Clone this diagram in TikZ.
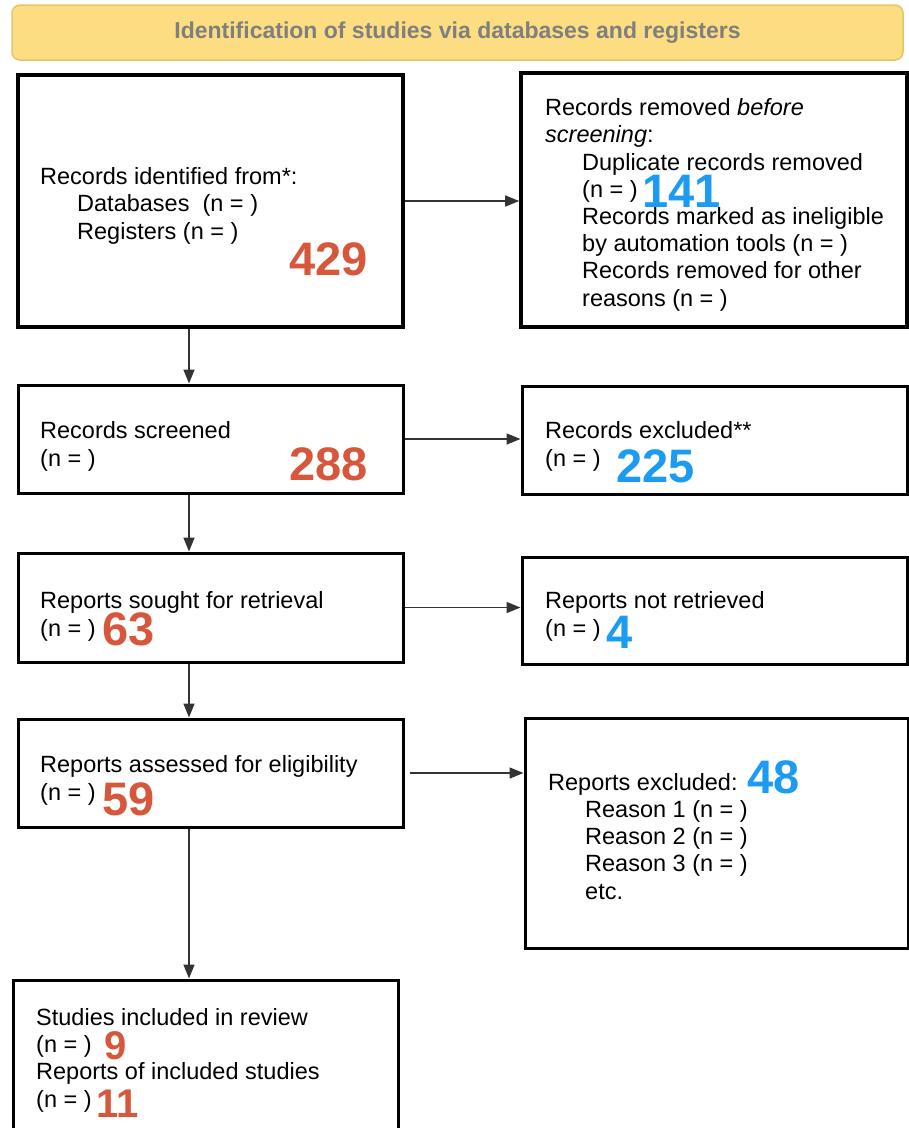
\documentclass[tikz,border=0pt]{standalone}
\usepackage{fontspec}
\setmainfont{Liberation Sans}
\usepackage{xcolor}
\usetikzlibrary{arrows.meta}

\definecolor{numred}{HTML}{D6573C}
\definecolor{numblue}{HTML}{1C9BF2}
\definecolor{bandfill}{HTML}{FCDD82}
\definecolor{bandline}{HTML}{E6C46C}
\definecolor{bandtext}{HTML}{7F7F7F}

\newcommand{\ind}{\hspace*{37pt}}

\begin{document}
\begin{tikzpicture}[x=1pt, y=-1pt,
				band/.style={draw=bandline, line width=1.5pt, fill=bandfill, rounded corners=8pt,
						minimum width=891pt, minimum height=55pt, inner sep=0pt,
						font=\fontsize{23}{27}\selectfont\bfseries, text=bandtext},
				box/.style={draw=black, line width=3pt, fill=white, rectangle, inner sep=0pt},
				topbox/.style={box, line width=3.6pt},
				txt/.style={anchor=base west, inner sep=0pt, align=left,
						font=\fontsize{23.5}{27.2}\selectfont},
				rednum/.style={anchor=base west, inner sep=0pt, text=numred,
						font=\fontsize{47}{47}\selectfont\bfseries},
				bluenum/.style={rednum, text=numblue},
				ar/.style={-{Triangle[length=14pt,width=11pt]}, line width=1.5pt, draw=black!80},
			]
			\useasboundingbox (0,0) rectangle (909,1128);
			\coordinate (spine) at (189,0);
			% header band
			\node[band] (head) at (457.5,32.5) {Identification of studies via databases and registers};
			% left column
			\node[topbox, minimum width=385pt, minimum height=252pt] (ident)    at (210.5,201) {};
			\node[box,    minimum width=385pt, minimum height=108pt] (screen)   at (210.5,439) {};
			\node[box,    minimum width=385pt, minimum height=109pt] (sought)   at (210.5,607.5) {};
			\node[box,    minimum width=385pt, minimum height=108pt] (assess)   at (210.5,773) {};
			\node[box,    minimum width=385pt, minimum height=155pt] (incl)     at (205.5,1057.5) {};
			% right column
			\node[topbox, minimum width=386pt, minimum height=254pt] (removed)  at (714,200) {};
			\node[box,    minimum width=385pt, minimum height=108pt] (excl)     at (714.5,440) {};
			\node[box,    minimum width=385pt, minimum height=107pt] (notret)   at (714.5,610.5) {};
			\node[box,    minimum width=383pt, minimum height=230pt] (repexcl)  at (716.5,833) {};
			% texts (placed by the baseline of their last line)
			\node[txt] (identtxt) at (40,239) {Records identified from*:\\\ind Databases~ (n = )\\\ind Registers (n = )};
			\node[txt] (removtxt) at (545,306) {Records removed \textit{before}\\\textit{screening}:\\
				\ind Duplicate records removed\\\ind (n = )\\\ind Records marked as ineligible\\
				\ind by automation tools (n = )\\\ind Records removed for other\\\ind reasons (n = )};
			\node[txt] (scrtxt)   at (40,466)  {Records screened\\(n = )};
			\node[txt] (excltxt)  at (545,466) {Records excluded**\\(n = )};
			\node[txt] (sougtxt)  at (40,636)  {Reports sought for retrieval\\(n = )};
			\node[txt] (notrtxt)  at (545,636) {Reports not retrieved\\(n = )};
			\node[txt] (asstxt)   at (40,800)  {Reports assessed for eligibility\\(n = )};
			\node[txt] (repxtxt)  at (548,899) {Reports excluded:\\\ind Reason 1 (n = )\\\ind Reason 2 (n = )\\\ind Reason 3 (n = )\\\ind etc.};
			\node[txt] (incltxt)  at (36,1107) {Studies included in review\\(n = )\\Reports of included studies\\(n = )};
			% counts
			\node[rednum]  (n429) at (289,275)  {429};
			\node[bluenum] (n141) at (642,207)  {141};
			\node[rednum]  (n288) at (289,480)  {288};
			\node[bluenum] (n225) at (616,482)  {225};
			\node[rednum]  (n63)  at (102,645)  {63};
			\node[bluenum] (n4)   at (606,648)  {4};
			\node[rednum]  (n59)  at (102,815)  {59};
			\node[bluenum] (n48)  at (747,793)  {48};
			\node[rednum, font=\fontsize{40}{40}\selectfont\bfseries] (n9)  at (104,1059) {9};
			\node[rednum, font=\fontsize{40}{40}\selectfont\bfseries] (n11) at (96,1117)  {11};
			% flow down
			\draw[ar] (ident.south -| spine)  -- (screen.north -| spine);
			\draw[ar] (screen.south -| spine) -- (sought.north -| spine);
			\draw[ar] (sought.south -| spine) -- (assess.north -| spine);
			\draw[ar] (assess.south -| spine) -- (incl.north -| spine);
			% flow right
			\draw[ar] (ident.east)  -- (removed.west |- ident.east);
			\draw[ar] (screen.east) -- (excl.west |- screen.east);
			\draw[ar] (sought.east) -- (notret.west |- sought.east);
			\draw[ar] ([xshift=5pt]assess.east) -- (repexcl.west |- assess.east);
		\end{tikzpicture}
\end{document}
